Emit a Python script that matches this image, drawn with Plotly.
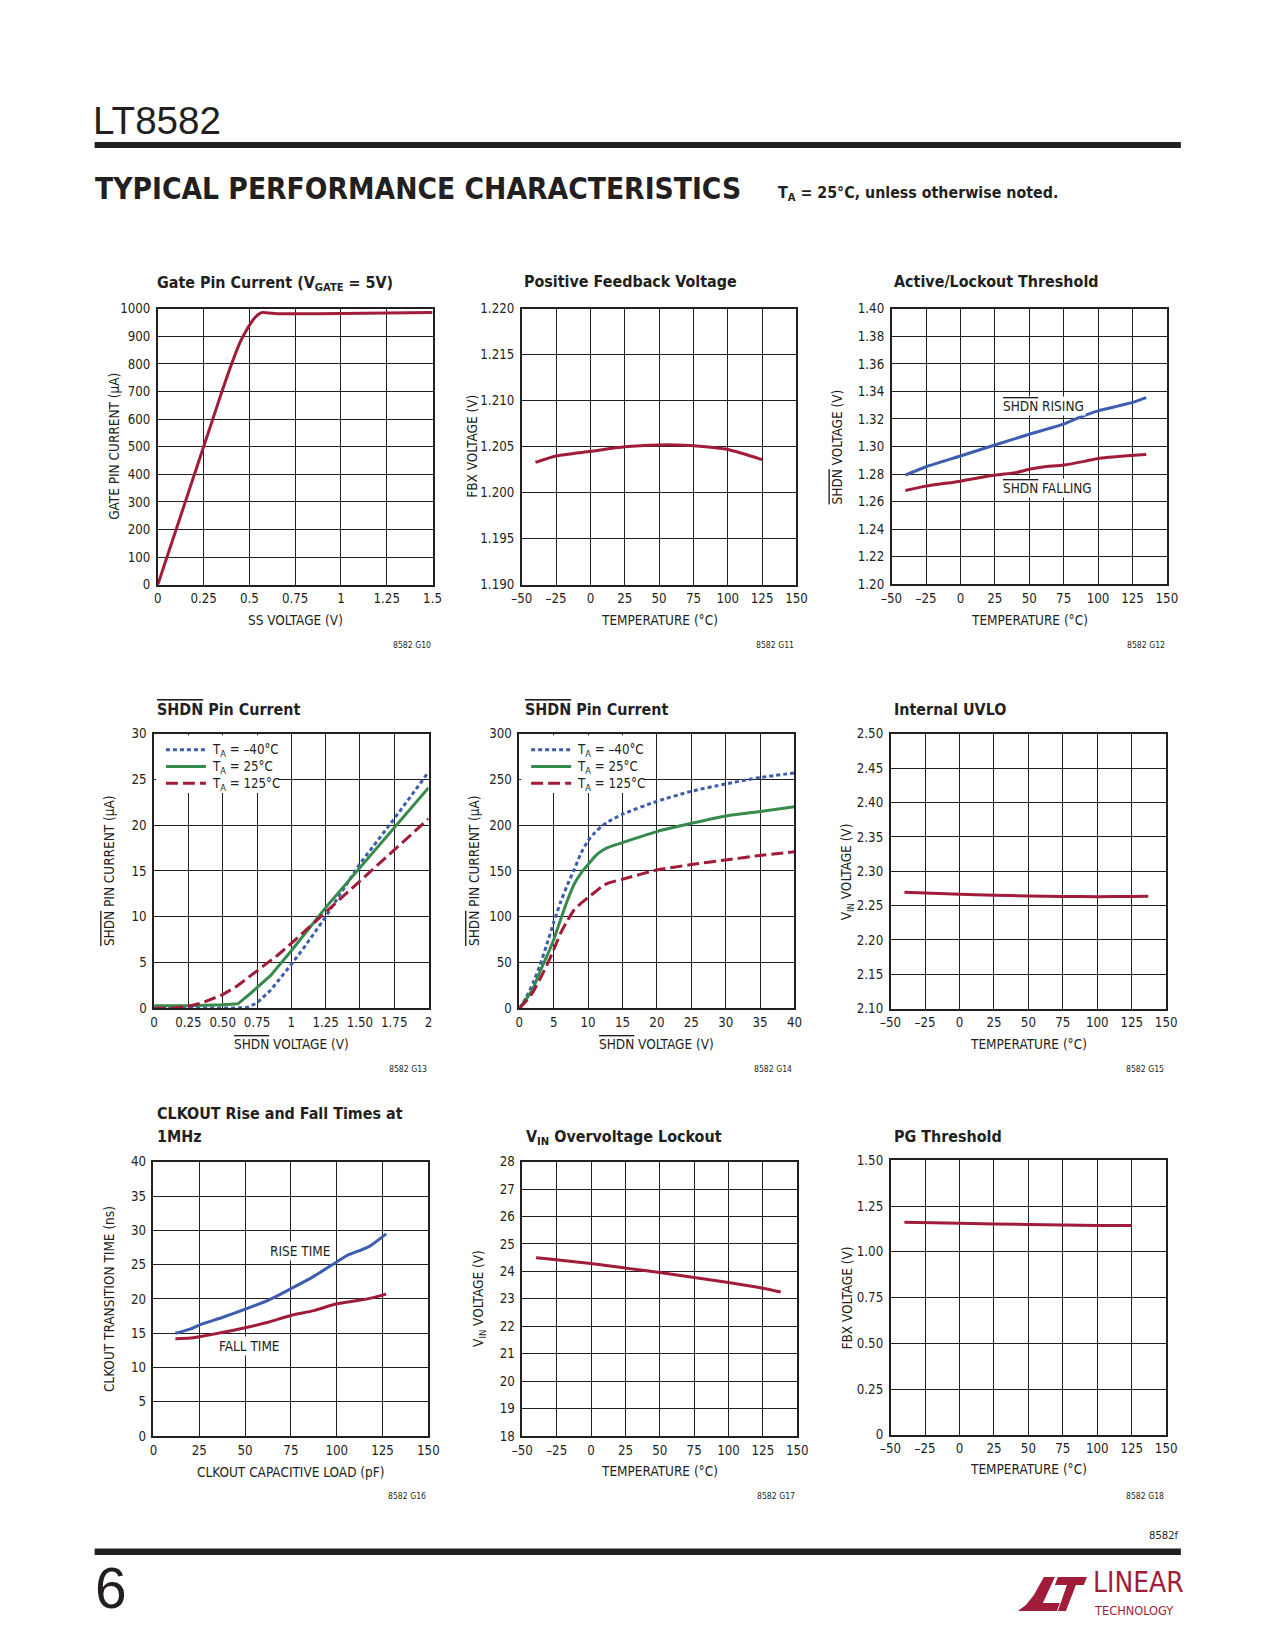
import plotly.graph_objects as go

# ---------------- data ----------------
gate_ss_v = [0, 0.02, 0.05, 0.1, 0.15, 0.2, 0.25, 0.3, 0.35, 0.4, 0.45, 0.48, 0.5, 0.52, 0.55, 0.57, 0.6, 0.65, 0.75, 1.0, 1.25, 1.5]
gate_current_ua = [0, 40, 100, 200, 300, 400, 500, 600, 700, 795, 880, 918, 940, 960, 980, 987, 985, 982, 982, 983, 985, 987]

fbx_temp = [-40, -25, 0, 25, 50, 62, 75, 100, 125]
fbx_v = [1.2033, 1.2040, 1.2045, 1.2050, 1.2052, 1.2052, 1.2051, 1.2047, 1.2036]

rise_temp = [-40, -25, 0, 25, 50, 75, 85, 100, 115, 125, 135]
shdn_rising_v = [1.2792, 1.2853, 1.2931, 1.3011, 1.3089, 1.3162, 1.3205, 1.3259, 1.3295, 1.3320, 1.3355]
fall_temp = [-40, -25, 0, 25, 40, 50, 60, 75, 90, 100, 125, 135]
shdn_falling_v = [1.2680, 1.2712, 1.2748, 1.2792, 1.2810, 1.2834, 1.2851, 1.2865, 1.2892, 1.2913, 1.2935, 1.2942]

shdn_lo_v_m40 = [0, 0.25, 0.5, 0.6, 0.68, 0.75, 0.85, 1.0, 1.1, 1.25, 1.5, 1.75, 2.0]
shdn_lo_i_m40 = [0, 0, 0, 0.05, 0.1, 0.6, 2.0, 4.8, 6.8, 10.0, 15.8, 20.7, 25.8]
shdn_lo_v_25 = [0, 0.25, 0.5, 0.61, 0.7, 0.8, 0.85, 0.9, 1.0, 1.25, 1.5, 1.75, 2.0]
shdn_lo_i_25 = [0.3, 0.3, 0.4, 0.5, 1.6, 3.0, 3.6, 4.5, 6.3, 11.0, 15.4, 19.7, 24.1]
shdn_lo_v_125 = [0, 0.15, 0.25, 0.35, 0.5, 0.6, 0.75, 0.9, 1.0, 1.25, 1.5, 1.75, 2.0]
shdn_lo_i_125 = [0, 0.05, 0.25, 0.6, 1.5, 2.4, 4.1, 5.8, 7.1, 10.5, 14.0, 17.3, 20.7]

shdn_hi_v = [0, 1, 2, 3, 4, 5, 6, 7, 8, 9, 10, 11, 12, 13, 15, 20, 25, 30, 35, 40]
shdn_hi_i_m40 = [0, 12, 28, 47, 70, 94, 116, 135, 152, 170, 183, 192, 199, 204, 212, 226, 237, 245, 252, 257]
shdn_hi_i_25 = [0, 10, 22, 40, 57, 75, 97, 118, 136, 148, 157, 166, 172, 176, 181, 193, 202, 210, 215, 220]
shdn_hi_i_125 = [0, 8, 18, 32, 47, 64, 82, 96, 108, 115, 121, 127, 133, 137, 141, 151, 157, 162, 167, 171]

uvlo_temp = [-40, 0, 25, 50, 75, 100, 125, 137]
uvlo_v = [2.2695, 2.2667, 2.2652, 2.2640, 2.2633, 2.2630, 2.2633, 2.2637]

rise_load_pf = [12, 20, 25, 37.5, 50, 62.5, 75, 87.5, 100, 106, 112, 118, 127]
rise_time_ns = [15.0, 15.6, 16.2, 17.3, 18.5, 19.8, 21.5, 23.3, 25.4, 26.4, 27.0, 27.7, 29.5]
fall_load_pf = [12, 20, 25, 37.5, 50, 62.5, 75, 87.5, 100, 112, 120, 127]
fall_time_ns = [14.2, 14.3, 14.5, 15.1, 15.8, 16.6, 17.6, 18.3, 19.3, 19.8, 20.2, 20.7]

ovlo_temp = [-40, 0, 25, 50, 75, 100, 125, 138]
ovlo_v = [24.50, 24.29, 24.12, 23.96, 23.78, 23.60, 23.39, 23.25]

pg_temp = [-40, 0, 50, 75, 100, 125]
pg_v = [1.162, 1.156, 1.149, 1.147, 1.144, 1.144]

legend_labels = ["T<sub>A</sub> = –40°C", "T<sub>A</sub> = 25°C", "T<sub>A</sub> = 125°C"]

# ---------------- tick labels ----------------
temp_ticks = [-50, -25, 0, 25, 50, 75, 100, 125, 150]
temp_ticktext = ["–50", "–25", "0", "25", "50", "75", "100", "125", "150"]
ss_ticks = [0, 0.25, 0.5, 0.75, 1, 1.25, 1.5]
ss_ticktext = ["0", "0.25", "0.5", "0.75", "1", "1.25", "1.5"]
gate_yticks = [0, 100, 200, 300, 400, 500, 600, 700, 800, 900, 1000]
fbx_yticks = [1.190, 1.195, 1.200, 1.205, 1.210, 1.215, 1.220]
fbx_yticktext = ["1.190", "1.195", "1.200", "1.205", "1.210", "1.215", "1.220"]
thr_yticks = [1.20, 1.22, 1.24, 1.26, 1.28, 1.30, 1.32, 1.34, 1.36, 1.38, 1.40]
thr_yticktext = ["1.20", "1.22", "1.24", "1.26", "1.28", "1.30", "1.32", "1.34", "1.36", "1.38", "1.40"]
shdn_lo_xticks = [0, 0.25, 0.5, 0.75, 1, 1.25, 1.5, 1.75, 2]
shdn_lo_xticktext = ["0", "0.25", "0.50", "0.75", "1", "1.25", "1.50", "1.75", "2"]
shdn_lo_yticks = [0, 5, 10, 15, 20, 25, 30]
shdn_hi_xticks = [0, 5, 10, 15, 20, 25, 30, 35, 40]
shdn_hi_yticks = [0, 50, 100, 150, 200, 250, 300]
uvlo_yticks = [2.10, 2.15, 2.20, 2.25, 2.30, 2.35, 2.40, 2.45, 2.50]
uvlo_yticktext = ["2.10", "2.15", "2.20", "2.25", "2.30", "2.35", "2.40", "2.45", "2.50"]
clk_xticks = [0, 25, 50, 75, 100, 125, 150]
clk_yticks = [0, 5, 10, 15, 20, 25, 30, 35, 40]
ovlo_yticks = [18, 19, 20, 21, 22, 23, 24, 25, 26, 27, 28]
pg_yticks = [0, 0.25, 0.5, 0.75, 1.0, 1.25, 1.5]
pg_yticktext = ["0", "0.25", "0.50", "0.75", "1.00", "1.25", "1.50"]

# ---------------- styling ----------------
W, H = 1275, 1650
# the photographed page comes out slightly shrunk about its centre;
# positions measured on the reference are mapped back through this factor
KX, KY = 0.983, 0.9915
FS = 1.015
RED = "#A01C38"
BLUE = "#3D5DAE"
GREEN = "#368A4B"
INK = "#231F20"
NARROW = "DejaVu Sans Condensed, Liberation Sans Narrow, Liberation Sans, sans-serif"
PLAIN = "Liberation Sans, Arial, sans-serif"


def px(x):
    return (637.5 + (x - 637.5) / KX) / W


def py(y):
    return 1 - (825 + (y - 825) / KY) / H


def OL(s):
    return f'<span style="text-decoration:overline">{s}</span>'


fig = go.Figure()

# plot frames measured on the reference: left, right, top, bottom
boxes = {
    1: (157.7, 432.5, 309, 585),
    2: (521.7, 796.5, 309, 585),
    3: (891.7, 1167.0, 309, 584.5),
    4: (154.0, 428.5, 734, 1009),
    5: (519.3, 794.5, 734, 1009),
    6: (890.7, 1166.3, 734.3, 1009.3),
    7: (153.3, 428.3, 1162.5, 1437),
    8: (522.3, 797.3, 1162.3, 1437),
    9: (890.7, 1166.3, 1161, 1435.7),
}

axes_spec = {
    1: dict(xr=[0, 1.5], xt=ss_ticks, xtt=ss_ticktext, yr=[0, 1000], yt=gate_yticks, ytt=[str(v) for v in gate_yticks]),
    2: dict(xr=[-50, 150], xt=temp_ticks, xtt=temp_ticktext, yr=[1.190, 1.220], yt=fbx_yticks, ytt=fbx_yticktext),
    3: dict(xr=[-50, 150], xt=temp_ticks, xtt=temp_ticktext, yr=[1.20, 1.40], yt=thr_yticks, ytt=thr_yticktext),
    4: dict(xr=[0, 2], xt=shdn_lo_xticks, xtt=shdn_lo_xticktext, yr=[0, 30], yt=shdn_lo_yticks, ytt=[str(v) for v in shdn_lo_yticks]),
    5: dict(xr=[0, 40], xt=shdn_hi_xticks, xtt=[str(v) for v in shdn_hi_xticks], yr=[0, 300], yt=shdn_hi_yticks, ytt=[str(v) for v in shdn_hi_yticks]),
    6: dict(xr=[-50, 150], xt=temp_ticks, xtt=temp_ticktext, yr=[2.10, 2.50], yt=uvlo_yticks, ytt=uvlo_yticktext),
    7: dict(xr=[0, 150], xt=clk_xticks, xtt=[str(v) for v in clk_xticks], yr=[0, 40], yt=clk_yticks, ytt=[str(v) for v in clk_yticks]),
    8: dict(xr=[-50, 150], xt=temp_ticks, xtt=temp_ticktext, yr=[18, 28], yt=ovlo_yticks, ytt=[str(v) for v in ovlo_yticks]),
    9: dict(xr=[-50, 150], xt=temp_ticks, xtt=temp_ticktext, yr=[0, 1.5], yt=pg_yticks, ytt=pg_yticktext),
}

layout_axes = {}
for i, (l, r, t, b) in boxes.items():
    s = axes_spec[i]
    xn = "xaxis" if i == 1 else f"xaxis{i}"
    yn = "yaxis" if i == 1 else f"yaxis{i}"
    common = dict(showgrid=True, gridcolor=INK, gridwidth=1.2, showline=True, mirror=True,
                  linecolor=INK, linewidth=1.6, ticks="", zeroline=False, fixedrange=True,
                  tickfont=dict(family=NARROW, size=13 * FS, color=INK))
    layout_axes[xn] = dict(common, domain=[px(l), px(r)], range=s["xr"], tickmode="array",
                           tickvals=s["xt"], ticktext=s["xtt"],
                           anchor="y" if i == 1 else f"y{i}", ticklabelstandoff=1)
    layout_axes[yn] = dict(common, domain=[py(b), py(t)], range=s["yr"], tickmode="array",
                           tickvals=s["yt"], ticktext=s["ytt"],
                           anchor="x" if i == 1 else f"x{i}", ticklabelstandoff=3)


def ax(i):
    return ("x", "y") if i == 1 else (f"x{i}", f"y{i}")


def line(i, x, y, color, dash="solid", smooth=True):
    xa, ya = ax(i)
    fig.add_trace(go.Scatter(
        x=x, y=y, mode="lines", xaxis=xa, yaxis=ya,
        line=dict(color=color, width=3, dash=dash,
                  shape="spline" if smooth else "linear", smoothing=0.6 if smooth else None),
        showlegend=False, hoverinfo="skip"))


DOT = "4px,3px"
DASH = "12px,5px"

line(1, gate_ss_v, gate_current_ua, RED)
line(2, fbx_temp, fbx_v, RED)
line(3, rise_temp, shdn_rising_v, BLUE)
line(3, fall_temp, shdn_falling_v, RED)
line(4, shdn_lo_v_m40, shdn_lo_i_m40, BLUE, DOT, smooth=False)
line(4, shdn_lo_v_25, shdn_lo_i_25, GREEN, "solid", smooth=False)
line(4, shdn_lo_v_125, shdn_lo_i_125, RED, DASH, smooth=False)
line(5, shdn_hi_v, shdn_hi_i_m40, BLUE, DOT)
line(5, shdn_hi_v, shdn_hi_i_25, GREEN, "solid")
line(5, shdn_hi_v, shdn_hi_i_125, RED, DASH)
line(6, uvlo_temp, uvlo_v, RED)
line(7, rise_load_pf, rise_time_ns, BLUE)
line(7, fall_load_pf, fall_time_ns, RED)
line(8, ovlo_temp, ovlo_v, RED)
line(9, pg_temp, pg_v, RED)

ann = []
shapes = []


def text(x, y, s, size, family=NARROW, xanchor="left", yanchor="middle", angle=0, color=INK, bg=None):
    d = dict(x=px(x), y=py(y), xref="paper", yref="paper", text=s, showarrow=False,
             xanchor=xanchor, yanchor=yanchor, textangle=angle,
             font=dict(family=family, size=size * FS, color=color))
    if bg:
        d.update(bgcolor=bg, borderpad=1)
    ann.append(d)


# page header
text(91, 121, "LT8582", 38, family=PLAIN)
text(93, 188.5, "<b>TYPICAL PERFORMANCE CHARACTERISTICS</b>", 29.2)
text(776, 194, "<b>T<sub>A</sub> = 25°C, unless otherwise noted.</b>", 15.6)

# chart titles
TS = 15.7
text(155, 284, "<b>Gate Pin Current (V<sub>GATE</sub> = 5V)</b>", TS)
text(522, 282, "<b>Positive Feedback Voltage</b>", TS)
text(892, 282, "<b>Active/Lockout Threshold</b>", TS)
text(155, 710, "<b>" + OL("SHDN") + " Pin Current</b>", TS)
text(523, 710, "<b>" + OL("SHDN") + " Pin Current</b>", TS)
text(892, 710, "<b>Internal UVLO</b>", TS)
text(155, 1114, "<b>CLKOUT Rise and Fall Times at</b>", TS)
text(155, 1137, "<b>1MHz</b>", TS)
text(524, 1138, "<b>V<sub>IN</sub> Overvoltage Lockout</b>", TS)
text(892, 1137, "<b>PG Threshold</b>", TS)

# axis titles
ytitles = {
    1: (114, "GATE PIN CURRENT (µA)"),
    2: (472, "FBX VOLTAGE (V)"),
    3: (838, OL("SHDN") + " VOLTAGE (V)"),
    4: (109, OL("SHDN") + " PIN CURRENT (µA)"),
    5: (474, OL("SHDN") + " PIN CURRENT (µA)"),
    6: (847, "V<sub>IN</sub> VOLTAGE (V)"),
    7: (109, "CLKOUT TRANSITION TIME (ns)"),
    8: (479, "V<sub>IN</sub> VOLTAGE (V)"),
    9: (847, "FBX VOLTAGE (V)"),
}
xtitles = {
    1: (620, "SS VOLTAGE (V)"),
    2: (620, "TEMPERATURE (°C)"),
    3: (620, "TEMPERATURE (°C)"),
    4: (1045, OL("SHDN") + " VOLTAGE (V)"),
    5: (1045, OL("SHDN") + " VOLTAGE (V)"),
    6: (1045, "TEMPERATURE (°C)"),
    7: (1473, "CLKOUT CAPACITIVE LOAD (pF)"),
    8: (1472, "TEMPERATURE (°C)"),
    9: (1470, "TEMPERATURE (°C)"),
}
ids = {1: "8582 G10", 2: "8582 G11", 3: "8582 G12", 4: "8582 G13", 5: "8582 G14",
       6: "8582 G15", 7: "8582 G16", 8: "8582 G17", 9: "8582 G18"}
id_y = {1: 645, 2: 645, 3: 645, 4: 1070, 5: 1070, 6: 1070, 7: 1497, 8: 1497, 9: 1497}

for i, (l, r, t, b) in boxes.items():
    yx, ys = ytitles[i]
    text(yx, (t + b) / 2, ys, 13.3, xanchor="center", angle=-90)
    xy, xs = xtitles[i]
    text((l + r) / 2, xy, xs, 13.3, xanchor="center")
    text(r, id_y[i], ids[i], 8.5, xanchor="right")

# in-plot labels
text(1001, 406, OL("SHDN") + " RISING", 13.3, bg="white")
text(1001, 488, OL("SHDN") + " FALLING", 13.3, bg="white")
text(300, 1252, "RISE TIME", 13.3, xanchor="center", bg="white")
text(249, 1347, "FALL TIME", 13.3, xanchor="center", bg="white")

# legends (key boxes) for the two SHDN current charts
legend_styles = [(BLUE, DOT), (GREEN, "solid"), (RED, DASH)]
for (bl, bt) in [(155.8, 735.6), (521.1, 735.6)]:
    shapes.append(dict(type="rect", xref="paper", yref="paper", x0=px(bl), x1=px(bl + 122),
                       y0=py(bt + 58), y1=py(bt), fillcolor="white", line=dict(width=0), layer="above"))
    for k, (col, dsh) in enumerate(legend_styles):
        yy = bt + 14.5 + 16.8 * k
        shapes.append(dict(type="line", xref="paper", yref="paper", x0=px(bl + 10), x1=px(bl + 50),
                           y0=py(yy), y1=py(yy), line=dict(color=col, width=3, dash=dsh), layer="above"))
        text(bl + 54, yy + 1, legend_labels[k], 13)

# footer
text(1181, 1536, "8582f", 11, xanchor="right")
text(93, 1589, "6", 56, family=PLAIN)
text(1091, 1602, "LINEAR", 27.5, color=RED, yanchor="bottom")
text(1092, 1602, "TECHNOLOGY", 12.5, color=RED, yanchor="top")

shapes += [
    dict(type="rect", xref="paper", yref="paper", x0=px(94.5), x1=px(1181), y0=py(148), y1=py(142),
         fillcolor=INK, line=dict(width=0)),
    dict(type="rect", xref="paper", yref="paper", x0=px(94.5), x1=px(1181), y0=py(1556), y1=py(1549.5),
         fillcolor=INK, line=dict(width=0)),
]


def ppath(pts):
    return "M" + " L".join(f"{px(x):.5f},{py(y):.5f}" for x, y in pts) + " Z"


shapes.append(dict(type="path", xref="paper", yref="paper", fillcolor=RED, line=dict(width=0),
                   path=ppath([(1044, 1578), (1055, 1578), (1043, 1604), (1060, 1604), (1057, 1612),
                               (1018, 1612), (1026, 1606), (1034, 1596)])))
shapes.append(dict(type="path", xref="paper", yref="paper", fillcolor=RED, line=dict(width=0),
                   path=ppath([(1058, 1578), (1087, 1578), (1084, 1586), (1076, 1586), (1066, 1612),
                               (1058, 1612), (1067, 1586), (1055, 1586)])))

fig.update_layout(
    width=W, height=H, margin=dict(l=0, r=0, t=0, b=0), autosize=False,
    paper_bgcolor="white", plot_bgcolor="white", showlegend=False,
    annotations=ann, shapes=shapes,
    **layout_axes,
)

fig.write_html(
    "out.html",
    config={"displayModeBar": False, "responsive": False},
    post_script="document.documentElement.style.margin='0';document.body.style.margin='0';"
                "document.body.style.padding='0';document.body.style.overflow='hidden';",
)
